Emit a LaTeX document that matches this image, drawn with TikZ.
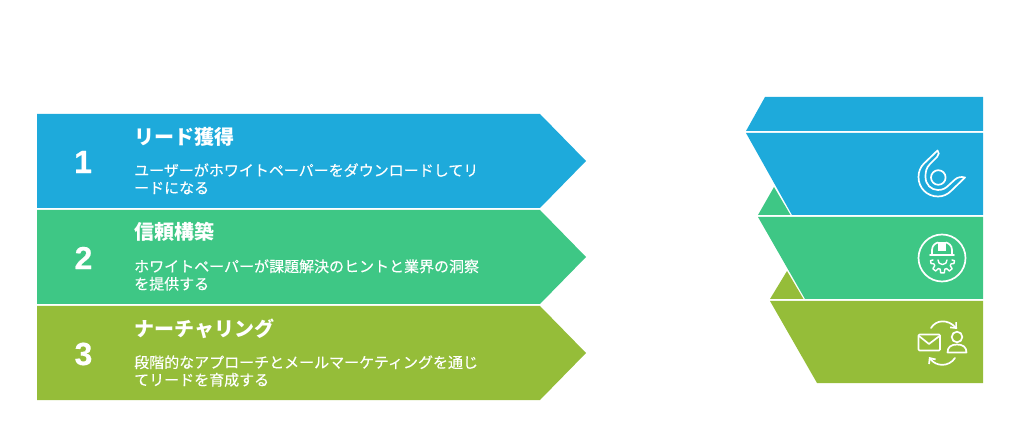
\documentclass[tikz,border=0pt]{standalone}
\usepackage{fontspec}
\setmainfont{Noto Sans CJK JP}
\newfontfamily\bodyfont[FakeBold=0.2]{Noto Sans CJK JP}
\newfontfamily\numfont[FakeBold=0.4]{Liberation Sans}
\definecolor{cblue}{HTML}{1EAADB}
\definecolor{cgreen}{HTML}{3EC785}
\definecolor{colive}{HTML}{95BD39}
\usetikzlibrary{arrows.meta}
\tikzset{
  x=1pt,y=-1pt,
  titletext/.style={anchor=base west,inner sep=0,text=white,font=\fontsize{20}{24}\selectfont\bfseries},
  bodytext/.style={anchor=base west,inner sep=0,text=white,font=\bodyfont\fontsize{15}{17.5}\selectfont},
  numtext/.style={anchor=center,inner sep=0,text=white,font=\numfont\fontsize{32}{36}\selectfont\bfseries},
  iconline/.style={draw=white,line width=1.7pt,line join=round,line cap=round},
  arrowicon/.style={iconline,-{Straight Barb[length=4.5pt,width=8pt]}},
}
\begin{document}
\begin{tikzpicture}
\useasboundingbox (0,0) rectangle (1020,438);
% left chevrons
\fill[cblue] (37,114) -- (540,114) -- (586,161) -- (540,208) -- (37,208) -- cycle;
\fill[cgreen] (37,210) -- (540,210) -- (586,257) -- (540,304) -- (37,304) -- cycle;
\fill[colive] (37,306) -- (540,306) -- (586,353) -- (540,400) -- (37,400) -- cycle;
% right funnel
\fill[cblue] (765,97) -- (983,97) -- (983,131) -- (746,131) -- cycle;
\fill[cblue] (746,133) -- (983,133) -- (983,215) -- (792,215) -- cycle;
\fill[cgreen] (774,187) -- (790.5,215) -- (758,215) -- cycle;
\fill[cgreen] (758,217) -- (983,217) -- (983,299) -- (805,299) -- cycle;
\fill[colive] (787,271) -- (803.5,299) -- (770,299) -- cycle;
\fill[colive] (770,301) -- (983,301) -- (983,383) -- (817,383) -- cycle;
% numbers
\node[numtext] (n1) at (83,162) {1};
\node[numtext] (n2) at (83.5,258) {2};
\node[numtext] (n3) at (83.5,354) {3};
% titles
\node[titletext] (t1) at (134,145) {リード獲得};
\node[titletext] (t2) at (134,240) {信頼構築};
\node[titletext] (t3) at (134,336) {ナーチャリング};
% bodies
\node[bodytext] (b1a) at (134,176) {ユーザーがホワイトペーパーをダウンロードしてリ};
\node[bodytext] (b1b) at (134,193.5) {ードになる};
\node[bodytext] (b2a) at (134,272) {ホワイトペーパーが課題解決のヒントと業界の洞察};
\node[bodytext] (b2b) at (134,289.5) {を提供する};
\node[bodytext] (b3a) at (134,368) {段階的なアプローチとメールマーケティングを通じ};
\node[bodytext] (b3b) at (134,385.5) {てリードを育成する};
% icon 1
\draw[iconline] (938.3,177.5) circle (7.3);
\draw[iconline] (937.5,150.5) .. controls (939.5,152) and (939,155) .. (937,157)
  -- (930,164) .. controls (926,168) and (925.5,172) .. (925.5,177)
  .. controls (925.5,184.5) and (931,190) .. (938,190)
  .. controls (943,190) and (946,188) .. (949,185)
  -- (955,179.5) .. controls (958,177) and (961,176.5) .. (965,177.5)
  -- (951,191) .. controls (947.5,194.5) and (943,196.5) .. (938,196.5)
  .. controls (927,196.5) and (918.5,188) .. (918.5,177)
  .. controls (918.5,171.5) and (920.5,167) .. (924,163.5) -- cycle;
% icon 2
\draw[iconline] (942,258) circle (23.5);
\draw[iconline] (930,255) -- (954,255);
\draw[iconline] (932,255) -- (932,250) .. controls (932,245) and (936,243) .. (938,242.5);
\draw[iconline] (952,255) -- (952,250) .. controls (952,245) and (948,243) .. (946,242.5);
\fill[white] (938,242) -- (946,242) -- (946,251) -- (938,251) -- cycle;
\begin{scope}[shift={(942.5,260)}]
\draw[iconline,line width=1.4pt] (0:9.5) -- (3:12) -- (17:12) -- (24:9.5) -- (36:9.5) -- (42:13) -- (58:13) -- (64:9.5) -- (76:9.5) -- (82:13) -- (98:13) -- (104:9.5) -- (116:9.5) -- (122:13) -- (138:13) -- (144:9.5) -- (156:9.5) -- (163:12) -- (177:12) -- (180:9.5);
\draw[iconline,line width=1.4pt] (-4.5,0) .. controls (-4.5,2.5) and (-3,4.5) .. (0,4.5) .. controls (3,4.5) and (4.5,2.5) .. (4.5,0);
\end{scope}
% icon 3
\draw[iconline,rounded corners=1pt] (918.5,334.5) rectangle (940,350.5);
\draw[iconline] (919,336) -- (929,344) -- (939.5,336);
\draw[iconline] (957,337) circle (5.3);
\draw[iconline] (947.5,352.5) .. controls (947.5,347) and (951,344.5) .. (957,344.5) .. controls (963,344.5) and (966.5,347) .. (966.5,352.5) -- cycle;
\draw[arrowicon] (931,328) .. controls (936,319.5) and (948,319) .. (957,329);
\draw[arrowicon] (955,358) .. controls (949,367) and (936,367) .. (929,357);
\end{tikzpicture}
\end{document}
